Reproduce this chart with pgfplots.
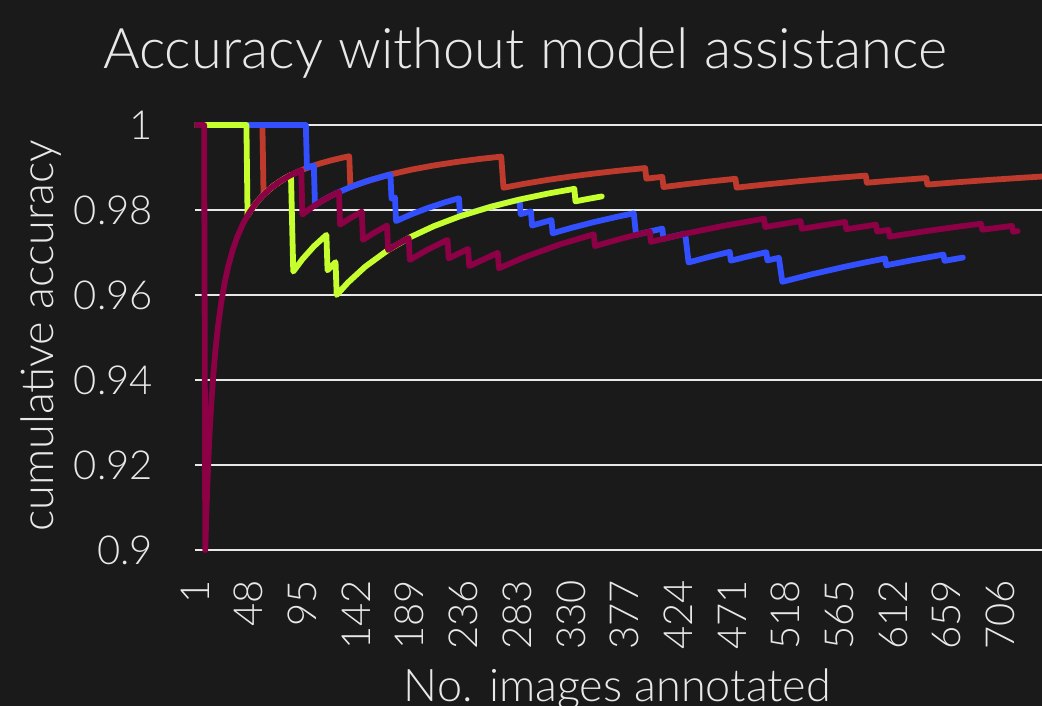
\documentclass[border=0pt]{standalone}
\usepackage{pgfplots}
\pgfplotsset{compat=1.18}
\usepackage{pgfplotstable}
\usepackage{fontspec}
\setmainfont{Lato Light}
\definecolor{bg}{HTML}{1A1A1A}
\definecolor{fg}{HTML}{E8E8E8}
\definecolor{cred}{HTML}{BE3A2D}
\definecolor{cgreen}{HTML}{C6FF2E}
\definecolor{cblue}{HTML}{3250FF}
\definecolor{cmaroon}{HTML}{8C0046}

\pgfplotstableread{
n acc
1 1
60 1
61 0.983607
70 0.985714
80 0.9875
90 0.988889
100 0.99
110 0.990909
120 0.991667
130 0.992308
136 0.992647
137 0.985401
150 0.986667
170 0.988235
190 0.989474
210 0.990476
230 0.991304
250 0.992
269 0.992565
270 0.988889
271 0.98524
290 0.986207
310 0.987097
330 0.987879
350 0.988571
370 0.989189
395 0.989873
396 0.987374
410 0.987805
411 0.985401
430 0.986047
450 0.986667
474 0.987342
475 0.985263
500 0.986
530 0.986792
560 0.9875
588 0.988095
589 0.986418
610 0.986885
641 0.98752
642 0.985981
670 0.986567
700 0.987143
730 0.987671
750 0.988
}\redtab

\pgfplotstableread{
n acc
1 1
98 1
99 0.989899
105 0.990476
106 0.981132
115 0.982609
125 0.984
140 0.985714
155 0.987097
172 0.988372
173 0.982659
176 0.982955
177 0.977401
190 0.978947
205 0.980488
220 0.981818
232 0.982759
233 0.978541
245 0.979592
260 0.980769
272 0.981618
285 0.982456
286 0.979021
295 0.979661
296 0.976351
313 0.977636
314 0.974522
330 0.975758
350 0.977143
370 0.978378
385 0.979221
386 0.976684
387 0.97416
400 0.975
410 0.97561
411 0.973236
420 0.97381
430 0.974419
431 0.972158
432 0.969907
433 0.967667
450 0.968889
469 0.970149
470 0.968085
485 0.969072
501 0.97006
502 0.968127
512 0.96875
513 0.966862
514 0.964981
515 0.963107
540 0.964815
570 0.966667
590 0.967797
605 0.968595
606 0.966997
630 0.968254
656 0.969512
657 0.968037
673 0.968796
}\bluetab

\pgfplotstableread{
n acc
1 1
46 1
47 0.978723
50 0.98
55 0.981818
60 0.983333
65 0.984615
70 0.985714
75 0.986667
80 0.9875
85 0.988235
86 0.976744
87 0.965517
95 0.968421
105 0.971429
116 0.974138
117 0.965812
124 0.967742
125 0.96
135 0.962963
150 0.966667
170 0.970588
190 0.973684
210 0.97619
233 0.978541
260 0.980769
285 0.982456
310 0.983871
333 0.984985
334 0.982036
345 0.982609
357 0.983193
}\greentab

\pgfplotstableread{
n acc
1 1
9 1
10 0.9
11 0.909091
12 0.916667
13 0.923077
14 0.928571
15 0.933333
17 0.941176
19 0.947368
21 0.952381
24 0.958333
27 0.962963
30 0.966667
34 0.970588
38 0.973684
43 0.976744
48 0.979167
54 0.981481
60 0.983333
67 0.985075
75 0.986667
84 0.988095
94 0.989362
95 0.978947
105 0.980952
115 0.982609
127 0.984252
128 0.976563
137 0.978102
147 0.979592
148 0.972973
158 0.974684
169 0.976331
170 0.970588
179 0.972067
188 0.973404
189 0.968254
205 0.970732
222 0.972973
223 0.96861
240 0.970833
241 0.966805
266 0.969925
267 0.966292
290 0.968966
320 0.971875
350 0.974286
351 0.97151
375 0.973333
399 0.974937
400 0.9725
430 0.974419
465 0.976344
499 0.977956
500 0.976
531 0.977401
532 0.975564
550 0.976364
570 0.977193
571 0.975482
597 0.976549
598 0.974916
608 0.975329
609 0.973727
640 0.975
670 0.976119
689 0.976778
690 0.975362
716 0.976257
717 0.974895
721 0.975035
}\maroontab

\begin{document}
\begin{tikzpicture}[x=1pt,y=1pt]
\path[use as bounding box] (0,0) rectangle (1042,706);
\fill[bg] (0,0) rectangle (1042,706);
\begin{axis}[
  at={(195pt,153.875pt)}, anchor=south west,
  scale only axis, width=847pt, height=431.375pt,
  xmin=1, xmax=742.3, ymin=0.8995, ymax=1.001,
  axis line style={draw=none},
  major tick length=0pt,
  xtick={1,48,95,142,189,236,283,330,377,424,471,518,565,612,659,706},
  xticklabels={1,48,95,142,189,236,283,330,377,424,471,518,565,612,659,706},
  ytick={0.9,0.92,0.94,0.96,0.98,1},
  yticklabels={0.9,0.92,0.94,0.96,0.98,1},
  /pgf/number format/assume math mode=true,
  ymajorgrids,
  grid style={fg, line width=2pt},
  tick label style={font=\fontsize{40}{48}\selectfont, text=fg},
  xticklabel style={yshift=-28pt, rotate=90, anchor=east, inner sep=0pt},
  yticklabel style={xshift=-42pt, anchor=east, inner sep=0pt},
  title={Accuracy without model assistance},
  title style={at={(axis description cs:0.3896,1.108)}, anchor=base, font=\fontsize{56}{62}\selectfont, text=fg, inner sep=0pt},
  xlabel={No. images annotated},
  xlabel style={at={(axis description cs:0.4988,-0.3474)}, anchor=base, font=\fontsize{45}{52}\selectfont, text=fg, inner sep=0pt},
  ylabel={cumulative accuracy},
  ylabel style={at={(axis description cs:-0.1665,0.501)}, anchor=base, font=\fontsize{45}{52}\selectfont, text=fg, inner sep=0pt},
  every axis plot/.append style={line width=5.8pt, line join=round, line cap=round, mark=none},
]
\addplot[cred] table[x=n, y=acc] {\redtab};
\addplot[cblue] table[x=n, y=acc] {\bluetab};
\addplot[cgreen] table[x=n, y=acc] {\greentab};
\addplot[cmaroon] table[x=n, y=acc] {\maroontab};
\end{axis}
\end{tikzpicture}
\end{document}
